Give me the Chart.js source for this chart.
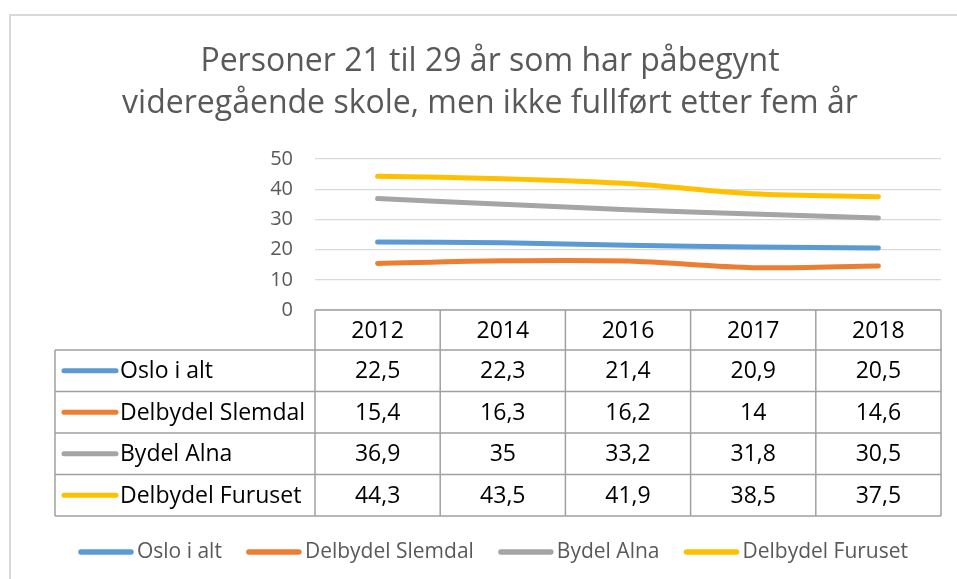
<!DOCTYPE html>
<html>
<head>
<meta charset="utf-8">
<script src="https://cdn.jsdelivr.net/npm/chart.js@4.4.0/dist/chart.umd.min.js"></script>
<style>
  html, body { margin: 0; padding: 0; background: #fff; }
</style>
</head>
<body>
<canvas id="chart" width="957" height="579"></canvas>
<script>
// data
const titleLines = ["Personer 21 til 29 år som har påbegynt", "videregående skole, men ikke fullført etter fem år"];
const years = ["2012", "2014", "2016", "2017", "2018"];
const seriesNames = ["Oslo i alt", "Delbydel Slemdal", "Bydel Alna", "Delbydel Furuset"];
const osloIAlt = [22.5, 22.3, 21.4, 20.9, 20.5];
const slemdal = [15.4, 16.3, 16.2, 14, 14.6];
const alna = [36.9, 35, 33.2, 31.8, 30.5];
const furuset = [44.3, 43.5, 41.9, 38.5, 37.5];
const yTicks = [0, 10, 20, 30, 40, 50];
const colors = ["#5B9BD5", "#ED7D31", "#A5A5A5", "#FFC000"];

const FONT = "'Open Sans', 'Liberation Sans', sans-serif";
const allValues = [osloIAlt, slemdal, alna, furuset];

function fmt(v) {
  return String(v).replace(".", ",");
}

// frame + title
const framePlugin = {
  id: "frame",
  beforeDraw(chart) {
    const ctx = chart.ctx;
    ctx.save();
    ctx.fillStyle = "#fff";
    ctx.fillRect(0, 0, chart.width, chart.height);
    ctx.strokeStyle = "#d9d9d9";
    ctx.lineWidth = 2;
    ctx.beginPath();
    ctx.moveTo(10, chart.height);
    ctx.lineTo(10, 15);
    ctx.lineTo(chart.width, 15);
    ctx.stroke();

    ctx.fillStyle = "#595959";
    ctx.font = "32px " + FONT;
    ctx.textAlign = "center";
    ctx.textBaseline = "middle";
    titleLines.forEach((t, i) => {
      ctx.fillText(t, 490, 62 + i * 42);
    });
    ctx.restore();
  }
};

// data table under the plot
const tablePlugin = {
  id: "dataTable",
  afterDraw(chart) {
    const ctx = chart.ctx;
    const xs = chart.scales.x;
    const area = chart.chartArea;
    const top = area.bottom;
    const headerH = 40;
    const rowH = 41.5;
    const labelLeft = 55;
    const n = years.length;

    const centers = years.map((y, i) => xs.getPixelForValue(i));
    const edges = [area.left];
    for (let i = 0; i < n - 1; i++) edges.push((centers[i] + centers[i + 1]) / 2);
    edges.push(area.right);

    const bottom = top + headerH + rowH * seriesNames.length;

    ctx.save();
    ctx.strokeStyle = "#a0a0a0";
    ctx.lineWidth = 1.5;
    ctx.beginPath();
    // horizontal lines
    ctx.moveTo(area.left, top);
    ctx.lineTo(area.right, top);
    for (let r = 0; r <= seriesNames.length; r++) {
      const y = top + headerH + r * rowH;
      ctx.moveTo(labelLeft, y);
      ctx.lineTo(area.right, y);
    }
    // vertical lines
    edges.forEach((x) => {
      ctx.moveTo(x, top);
      ctx.lineTo(x, bottom);
    });
    ctx.moveTo(labelLeft, top + headerH);
    ctx.lineTo(labelLeft, bottom);
    ctx.stroke();

    ctx.fillStyle = "#000";
    ctx.font = "23px " + FONT;
    ctx.textBaseline = "middle";
    ctx.textAlign = "center";
    years.forEach((y, i) => {
      ctx.fillText(y, centers[i], top + headerH / 2 + 1);
    });

    seriesNames.forEach((name, r) => {
      const cy = top + headerH + r * rowH + rowH / 2;
      ctx.strokeStyle = colors[r];
      ctx.lineWidth = 5;
      ctx.lineCap = "round";
      ctx.beginPath();
      ctx.moveTo(64, cy);
      ctx.lineTo(116, cy);
      ctx.stroke();

      ctx.textAlign = "left";
      ctx.fillText(name, 120, cy + 1);
      ctx.textAlign = "center";
      allValues[r].forEach((v, i) => {
        ctx.fillText(fmt(v), centers[i], cy + 1);
      });
    });
    ctx.restore();
  }
};

// legend at the bottom
const legendPlugin = {
  id: "bottomLegend",
  afterDraw(chart) {
    const ctx = chart.ctx;
    ctx.save();
    ctx.font = "21px " + FONT;
    ctx.textBaseline = "middle";
    ctx.textAlign = "left";
    const lineW = 56, gap = 3, itemGap = 24;
    const widths = seriesNames.map((s) => ctx.measureText(s).width);
    const total = widths.reduce((a, w) => a + lineW + gap + w, 0) + itemGap * (seriesNames.length - 1);
    let x = 493 - total / 2;
    const y = 552;
    chart.data.datasets.forEach((ds, i) => {
      ctx.strokeStyle = ds.borderColor;
      ctx.lineWidth = 5.5;
      ctx.lineCap = "round";
      ctx.beginPath();
      ctx.moveTo(x + 3, y);
      ctx.lineTo(x + lineW - 3, y);
      ctx.stroke();
      ctx.fillStyle = "#595959";
      ctx.fillText(ds.label, x + lineW + gap, y);
      x += lineW + gap + widths[i] + itemGap;
    });
    ctx.restore();
  }
};

const ctx = document.getElementById("chart").getContext("2d");
const myChart = new Chart(ctx, {
  type: "line",
  data: {
    labels: years,
    datasets: seriesNames.map((name, i) => ({
      label: name,
      data: allValues[i],
      borderColor: colors[i],
      backgroundColor: colors[i],
      borderWidth: 5,
      borderCapStyle: "round",
      borderJoinStyle: "round",
      pointRadius: 0,
      tension: 0.3,
      fill: false,
    })),
  },
  options: {
    responsive: false,
    animation: false,
    devicePixelRatio: 1,
    layout: {
      padding: { top: 159, left: 255, right: 16, bottom: 269 },
    },
    plugins: {
      legend: { display: false },
      title: { display: false },
      tooltip: { enabled: false },
    },
    scales: {
      x: {
        display: false,
        offset: true,
      },
      y: {
        min: yTicks[0],
        max: yTicks[yTicks.length - 1],
        afterBuildTicks(scale) {
          scale.ticks = yTicks.map((v) => ({ value: v }));
        },
        afterFit(scale) {
          scale.width = 60;
        },
        border: { display: false },
        grid: { color: "#d9d9d9", lineWidth: 1.2, drawTicks: false },
        ticks: {
          padding: 22,
          color: "#595959",
          font: { family: FONT, size: 20 },
        },
      },
    },
  },
  plugins: [framePlugin, tablePlugin, legendPlugin],
});
</script>
</body>
</html>
